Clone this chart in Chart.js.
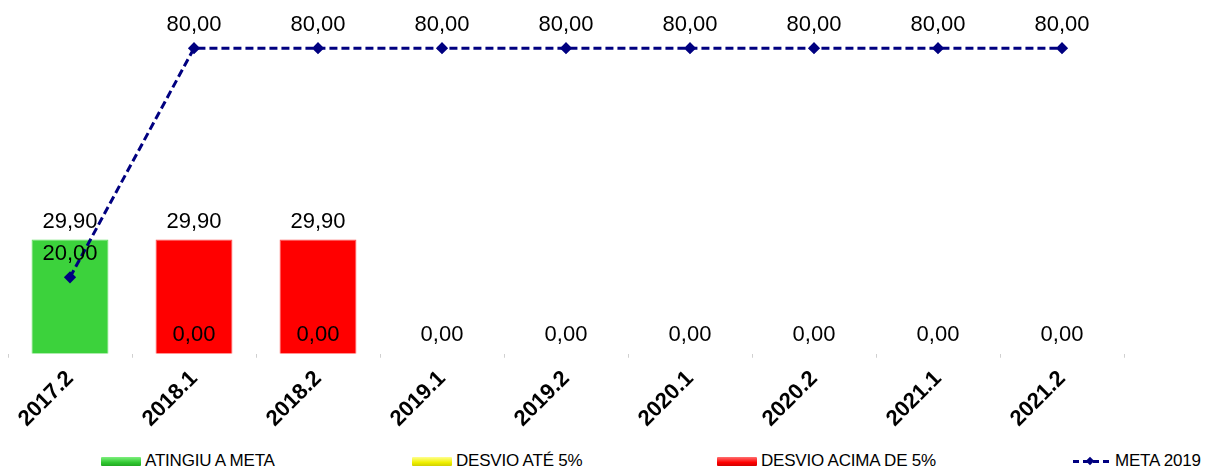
<!DOCTYPE html>
<html lang="pt">
<head>
  <meta charset="UTF-8">
  <title>Meta 2019</title>
  <script src="https://cdn.jsdelivr.net/npm/chart.js"></script>
  <style>
    body {
      margin: 0;
      padding: 0;
      background: #ffffff;
      font-family: 'Liberation Sans', Arial, sans-serif;
    }
    .wrap {
      position: relative;
      width: 1214px;
      height: 471px;
    }
    .chart-box {
      width: 1214px;
      height: 448px;
    }
    /* legend below the chart */
    .legend-item {
      position: absolute;
      top: 451px;
      height: 20px;
      display: flex;
      align-items: center;
      font-size: 17px;
      color: #000;
      letter-spacing: -0.2px;
    }
    .legend-item .box {
      width: 40px;
      height: 9px;
      margin-right: 4px;
      border-radius: 1px;
    }
    .legend-item .meta-mark {
      position: relative;
      width: 36px;
      height: 9px;
      margin-right: 6px;
    }
    .meta-mark .dash {
      position: absolute;
      top: 3px;
      left: 0;
      width: 36px;
      border-top: 3px dashed #000080;
    }
    .meta-mark .dot {
      position: absolute;
      top: 1px;
      left: 14px;
      width: 6px;
      height: 6px;
      background: #000080;
      transform: rotate(45deg);
    }
  </style>
</head>
<body>

<div class="wrap">
  <div class="chart-box"><canvas id="metaChart"></canvas></div>
  <div class="legend-item" style="left:101px"><span class="box" style="background:linear-gradient(#7ef07e,#32c832 60%,#22a822)"></span>ATINGIU A META</div>
  <div class="legend-item" style="left:412px"><span class="box" style="background:linear-gradient(#ffff90,#f0f000 60%,#d0d000)"></span>DESVIO ATÉ 5%</div>
  <div class="legend-item" style="left:717px"><span class="box" style="background:linear-gradient(#ff7070,#ff0000 60%,#d00000)"></span>DESVIO ACIMA DE 5%</div>
  <div class="legend-item" style="left:1073px"><span class="meta-mark"><span class="dash"></span><span class="dot"></span></span>META 2019</div>
</div>

<script>
  const periods = ["2017.2", "2018.1", "2018.2", "2019.1", "2019.2", "2020.1", "2020.2", "2021.1", "2021.2"];
  const atingiu = [29.9, null, null, null, null, null, null, null, null];
  const desvioAte5 = [null, 0, 0, 0, 0, 0, 0, 0, 0];
  const desvioAcima5 = [null, 29.9, 29.9, null, null, null, null, null, null];
  const meta2019 = [20, 80, 80, 80, 80, 80, 80, 80, 80];

  const labelFont = "22px 'Liberation Sans', Arial, sans-serif";

  function fmt(v) {
    return v.toFixed(2).replace(".", ",");
  }

  // draws the value labels over bars and line points
  const valueLabels = {
    id: "valueLabels",
    afterDatasetsDraw(chart) {
      const ctx = chart.ctx;
      const base = chart.scales.y.getPixelForValue(0);
      ctx.save();
      ctx.font = labelFont;
      ctx.fillStyle = "#000";
      ctx.textAlign = "center";
      ctx.textBaseline = "middle";
      chart.data.datasets.forEach((ds, i) => {
        const meta = chart.getDatasetMeta(i);
        meta.data.forEach((el, j) => {
          const v = ds.data[j];
          if (v === null || v === undefined) return;
          let y;
          if (ds.type === "line") y = el.y - 23;
          else if (v === 0) y = base - 19;
          else y = el.y - 18;
          ctx.fillText(fmt(v), el.x, y);
        });
      });
      ctx.restore();
    }
  };

  new Chart(document.getElementById("metaChart"), {
    type: "bar",
    data: {
      labels: periods,
      datasets: [
        {
          type: "line",
          label: "META 2019",
          data: meta2019,
          borderColor: "#000080",
          backgroundColor: "#000080",
          borderWidth: 3,
          borderDash: [8, 4],
          pointStyle: "rectRot",
          pointRadius: 4,
          pointBackgroundColor: "#000080",
          tension: 0,
          order: 0
        },
        {
          label: "ATINGIU A META",
          data: atingiu,
          backgroundColor: "#3cd23c",
          borderColor: "#5ee05e",
          borderWidth: 1,
          grouped: false,
          barPercentage: 0.62,
          categoryPercentage: 1,
          order: 1
        },
        {
          label: "DESVIO ATÉ 5%",
          data: desvioAte5,
          backgroundColor: "#ffff00",
          borderColor: "#e6e600",
          borderWidth: 1,
          grouped: false,
          barPercentage: 0.62,
          categoryPercentage: 1,
          order: 1
        },
        {
          label: "DESVIO ACIMA DE 5%",
          data: desvioAcima5,
          backgroundColor: "#ff0000",
          borderColor: "#ff5050",
          borderWidth: 1,
          grouped: false,
          barPercentage: 0.62,
          categoryPercentage: 1,
          order: 1
        }
      ]
    },
    options: {
      responsive: true,
      maintainAspectRatio: false,
      animation: false,
      layout: {
        padding: { top: 10, left: 8, right: 0, bottom: 8 }
      },
      scales: {
        x: {
          offset: true,
          border: { display: false },
          grid: {
            display: true,
            drawOnChartArea: false,
            drawTicks: true,
            tickLength: 4,
            color: "#d0d0d0"
          },
          ticks: {
            color: "#000",
            minRotation: 45,
            maxRotation: 45,
            padding: 8,
            font: { family: "'Liberation Sans', Arial, sans-serif", size: 22, weight: "bold" }
          }
        },
        y: {
          display: false,
          min: 0,
          max: 90
        },
        yRight: {
          position: "right",
          display: true,
          grid: { display: false },
          border: { display: false },
          ticks: { display: false },
          afterFit(axis) { axis.width = 90; }
        }
      },
      plugins: {
        tooltip: { enabled: false },
        legend: { display: false }
      }
    },
    plugins: [valueLabels]
  });
</script>
</body>
</html>
